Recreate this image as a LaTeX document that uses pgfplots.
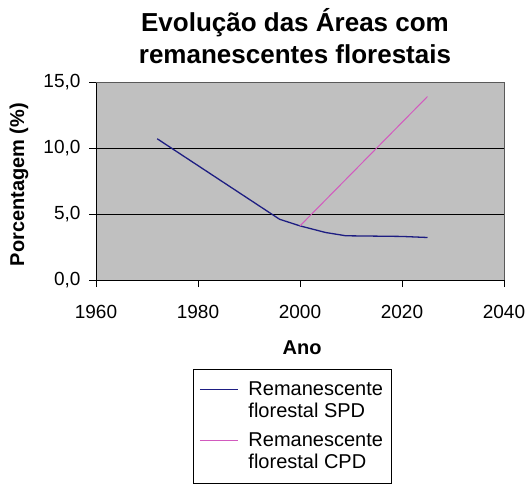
\documentclass[border=0pt]{standalone}
\usepackage{fontspec}
\setmainfont{Liberation Sans}
\usepackage{pgfplots}
\pgfplotsset{compat=1.18}

\definecolor{fundo}{RGB}{192,192,192}
\definecolor{spd}{RGB}{30,30,130}
\definecolor{cpd}{RGB}{210,90,190}

\begin{document}
\begin{tikzpicture}
\useasboundingbox (0,0) rectangle (528pt,488pt);
\begin{axis}[
  at={(96pt,208pt)}, anchor=south west,
  scale only axis, width=408pt, height=198pt,
  xmin=1960, xmax=2040, ymin=0, ymax=15,
  xtick={1960,1980,2000,2020,2040},
  ytick={0,5,10,15},
  axis lines=left, axis line style={-, black},
  axis background/.style={fill=fundo},
  ymajorgrids, grid style={black, line width=0.8pt},
  tick align=outside, major tick length=7pt,
  tick style={black},
  /pgf/number format/assume math mode=true,
  xticklabel style={font=\fontsize{19}{22}\selectfont, /pgf/number format/1000 sep={}, yshift=-15pt},
  yticklabel style={font=\fontsize{19}{22}\selectfont, /pgf/number format/.cd, fixed, fixed zerofill, precision=1, use comma, /tikz/.cd, xshift=-5pt},
  ylabel={Porcentagem (\%)}, xlabel={Ano},
  label style={font=\fontsize{20}{24}\selectfont\bfseries},
  ylabel style={at={(axis description cs:-0.189,0.482)}, anchor=center},
  xlabel style={at={(axis description cs:0.505,-0.343)}, anchor=center},
  legend style={at={(axis description cs:0.2377,-0.4495)}, anchor=north west,
    draw=black, fill=white, font=\fontsize{20}{22}\selectfont,
    cells={anchor=west, align=left}, row sep=9pt, inner xsep=6pt, inner ysep=11pt},
  legend image code/.code={\draw[#1] (0pt,11pt) -- (38pt,11pt); \path (46pt,11pt);},
  extra description/.code={\draw[gray!70!black] (rel axis cs:0,1) -- (rel axis cs:1,1) -- (rel axis cs:1,0);},
]
\addplot[spd, line width=1.3pt] coordinates {
  (1972,10.7) (1996,4.6) (2000,4.1) (2005,3.6) (2009,3.35) (2020,3.3) (2025,3.22)};
\addlegendentry{Remanescente\\florestal SPD}
\addplot[cpd, line width=1pt] coordinates {(2000,4.1) (2025,13.9)};
\addlegendentry{Remanescente\\florestal CPD}
\end{axis}
\node[anchor=base, font=\fontsize{26}{32}\selectfont\bfseries] at (295pt,456pt) {Evolução das Áreas com};
\node[anchor=base, font=\fontsize{26}{32}\selectfont\bfseries] at (295pt,424pt) {remanescentes florestais};
\end{tikzpicture}
\end{document}
